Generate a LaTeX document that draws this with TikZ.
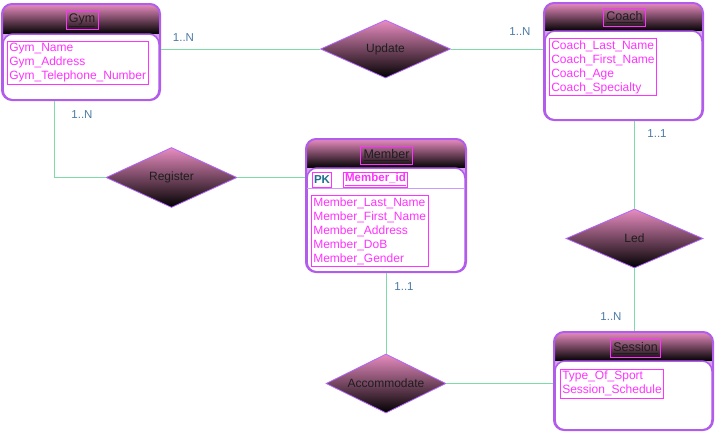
\documentclass[tikz,border=0pt]{standalone}
\usepackage{fontspec}
\setmainfont{Liberation Sans}
\usetikzlibrary{shapes.geometric,fit}
\definecolor{hpink}{RGB}{232,140,192}
\definecolor{epurple}{RGB}{178,92,235}
\definecolor{dpurple}{RGB}{178,102,255}
\definecolor{lpurple}{RGB}{215,160,240}
\definecolor{seppurple}{RGB}{204,153,255}
\definecolor{mag}{RGB}{255,51,255}
\definecolor{lgreen}{RGB}{125,220,165}
\definecolor{lblue}{RGB}{74,122,165}
\definecolor{pkteal}{RGB}{30,110,140}
\definecolor{textdark}{RGB}{30,30,30}
\tikzset{
 conn/.style={draw=lgreen, line width=1pt},
 rel/.style={diamond, aspect=2.2, draw=dpurple, line width=0.8pt, top color=hpink, bottom color=black, inner sep=0pt, text=textdark, font=\fontsize{12}{14}\selectfont},
 entitybox/.style={draw=epurple, line width=2pt, rounded corners=10pt, inner sep=0pt, rectangle},
 bodybox/.style={draw=epurple, line width=1.5pt, fill=white, rounded corners=10pt},
 titlebox/.style={draw=mag, line width=0.6pt, inner sep=3pt, text=textdark, font=\fontsize{12.5}{14}\selectfont, minimum height=18pt},
 attrbox/.style={draw=mag, line width=0.6pt, inner sep=2pt, text=mag, align=left, anchor=north west, font=\fontsize{12}{14}\selectfont},
 keybox/.style={draw=mag, line width=0.6pt, inner sep=1.5pt, font=\bfseries\fontsize{11.5}{14}\selectfont, minimum height=15pt},
 card/.style={text=lblue, font=\fontsize{11.5}{13}\selectfont, inner sep=0pt},
 sepline/.style={draw=seppurple, line width=1.5pt},
}
\newcommand\entityshape[6]{%
  \begin{scope}
    \clip[rounded corners=10pt] (#2,#3) rectangle (#4,#5);
    \shade[top color=hpink,bottom color=black] (#2,#3) rectangle (#4,#6);
    \fill[lpurple] (#2,#6) rectangle (#4,#6+12);
  \end{scope}
  \draw[bodybox] (#2+1,#6) rectangle (#4-1,#5);
  \node[entitybox, fit={(#2,#3) (#4,#5)}] (#1) {};
}
\begin{document}
\begin{tikzpicture}[x=1pt,y=-1pt]
\useasboundingbox (0,0) rectangle (715,432);

% entities
\entityshape{gym}{2}{4}{160}{100}{34}
\node[titlebox] (gymtitle) at (82,20) {\underline{Gym}};
\node[attrbox] (gymattr) at (7,41) {Gym\_Name\\Gym\_Address\\Gym\_Telephone\_Number};

\entityshape{coach}{544}{3}{703}{120}{31}
\node[titlebox] (coachtitle) at (624.5,17) {\underline{Coach}};
\node[attrbox] (coachattr) at (549,38) {Coach\_Last\_Name\\Coach\_First\_Name\\Coach\_Age\\Coach\_Specialty};

\entityshape{member}{306}{139}{466}{272}{168}
\node[titlebox] (membertitle) at (386.5,155.5) {\underline{Member}};
\draw[sepline] (307,188.5) -- (465,188.5);
\node[keybox, text=pkteal] (pk) at (322,179.5) {PK};
\node[keybox, text=mag] (memberid) at (375.5,179.5) {\underline{Member\_id}};
\node[attrbox] (memberattr) at (311,195) {Member\_Last\_Name\\Member\_First\_Name\\Member\_Address\\Member\_DoB\\Member\_Gender};

\entityshape{session}{554}{332}{713}{430}{361}
\node[titlebox] (sessiontitle) at (635.5,348.5) {\underline{Session}};
\node[attrbox] (sessionattr) at (560,369) {Type\_Of\_Sport\\Session\_Schedule};

% relationships
\node[rel, minimum width=130pt, minimum height=58pt] (update) at (385.5,49) {Update};
\node[rel, minimum width=131pt, minimum height=60pt] (register) at (171.5,177.5) {Register};
\node[rel, minimum width=137pt, minimum height=59pt] (led) at (634.5,238.5) {Led};
\node[rel, minimum width=120pt, minimum height=59pt] (accommodate) at (386,383.5) {Accommodate};

% connectors
\coordinate (gymdrop) at ([xshift=-27pt]gym.south);
\draw[conn] (gym.east |- update.west) -- (update.west);
\draw[conn] (update.east) -- (update.east -| coach.west);
\draw[conn] (gymdrop) |- (register.west);
\draw[conn] (register.east) -- (register.east -| member.west);
\draw[conn] (coach.south -| led.north) -- (led.north);
\draw[conn] (led.south) -- (led.south |- session.north);
\draw[conn] (member.south -| accommodate.north) -- (accommodate.north);
\draw[conn] (accommodate.east) -- (accommodate.east -| session.west);

% cardinalities
\node[card] (c1) at (183.5,37.5) {1..N};
\node[card] (c2) at (520,31.5) {1..N};
\node[card] (c3) at (82,114.5) {1..N};
\node[card] (c4) at (657,134) {1..1};
\node[card] (c5) at (611,317) {1..N};
\node[card] (c6) at (404,287) {1..1};
\end{tikzpicture}
\end{document}
